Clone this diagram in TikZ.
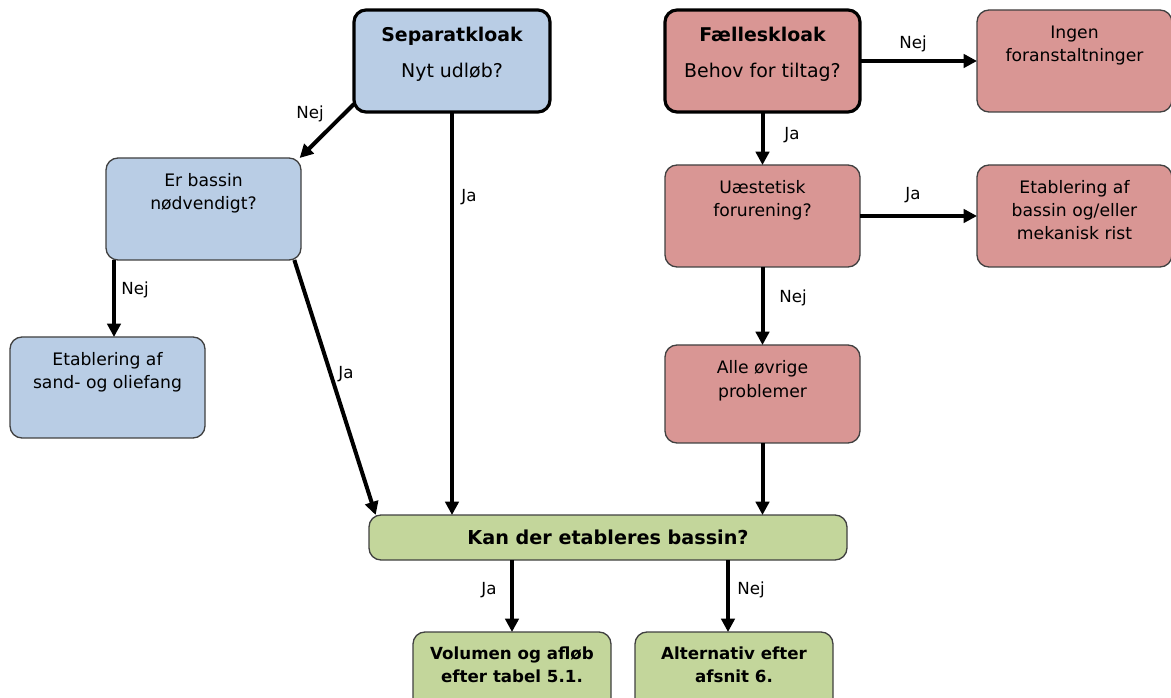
\documentclass[tikz,border=0pt]{standalone}
\usepackage{fontspec}
\setmainfont{DejaVu Sans}
\usetikzlibrary{arrows.meta}
\definecolor{bl}{HTML}{B9CDE5}
\definecolor{rs}{HTML}{D99694}
\definecolor{gr}{HTML}{C3D69B}
\definecolor{bd}{HTML}{404040}
\newcommand{\tbox}[4]{\parbox[t][#2][t]{#1}{\centering\rule{0pt}{#3}#4}}
\tikzset{
  box/.style={draw=bd, line width=1pt, rounded corners=9pt, inner sep=0pt, outer sep=0pt, anchor=north west,
    font=\fontsize{12.9}{17.25}\selectfont},
  mainbox/.style={box, draw=black, line width=2.4pt, font=\fontsize{14.2}{27.5}\selectfont},
  arr/.style={line width=3pt, -{Triangle[length=10pt,width=10pt]}},
  lab/.style={font=\fontsize{12.5}{14}\selectfont, inner sep=0pt}
}
\begin{document}
\begin{tikzpicture}[x=0.75pt,y=-0.75pt]
\clip (0,0) rectangle (1171,698);
% boxes
\node[mainbox, fill=bl] (sep) at (354,10) {\tbox{147pt}{76.5pt}{23.5pt}{{\bfseries Separatkloak}\\Nyt udløb?}};
\node[mainbox, fill=rs] (fael) at (665,10) {\tbox{146.25pt}{76.5pt}{23.5pt}{{\bfseries Fælleskloak}\\Behov for tiltag?}};
\node[box, fill=rs] (ingen) at (977,10) {\tbox{146.25pt}{76.5pt}{21.75pt}{Ingen\\foranstaltninger}};
\node[box, fill=bl] (er) at (106,158) {\tbox{146.25pt}{76.5pt}{21.75pt}{Er bassin\\nødvendigt?}};
\node[box, fill=bl] (sand) at (10,337) {\tbox{146.25pt}{75.75pt}{21.75pt}{Etablering af\\sand- og oliefang}};
\node[box, fill=rs] (uae) at (665,165) {\tbox{146.25pt}{76.5pt}{21.75pt}{Uæstetisk\\forurening?}};
\node[box, fill=rs] (etab) at (977,165) {\tbox{146.25pt}{76.5pt}{21.75pt}{Etablering af\\bassin og/eller\\mekanisk rist}};
\node[box, fill=rs] (alle) at (665,345) {\tbox{146.25pt}{73.5pt}{21.75pt}{Alle øvrige\\problemer}};
\node[box, fill=gr, font=\fontsize{14.4}{17}\bfseries] (kan) at (369,515) {\parbox[c][33.75pt][c]{358.5pt}{\centering Kan der etableres bassin?}};
\node[box, fill=gr, font=\fontsize{12.5}{17.25}\bfseries] (vol) at (413,632) {\tbox{148.5pt}{60pt}{20.5pt}{Volumen og afløb\\efter tabel 5.1.}};
\node[box, fill=gr, font=\fontsize{12.5}{17.25}\bfseries] (alt) at (635,632) {\tbox{148.5pt}{60pt}{20.5pt}{Alternativ efter\\afsnit 6.}};
% connectors
\draw[arr] ([yshift=6pt]sep.south west) -- ([xshift=-1pt]er.north east);
\draw[arr] (sep.south) -- (sep.south |- kan.north);
\draw[arr] ([xshift=6pt]er.south west) -- ([xshift=6pt]er.south west |- sand.north);
\draw[arr] ([xshift=-5pt]er.south east) -- ([xshift=5pt]kan.north west);
\draw[arr] (alle.south) -- (alle.south |- kan.north);
\draw[arr] (fael.east) -- (fael.east -| ingen.west);
\draw[arr] (fael.south) -- (uae.north);
\draw[arr] (uae.east) -- (uae.east -| etab.west);
\draw[arr] (uae.south) -- (alle.north);
\draw[arr] (vol.north |- kan.south) -- (vol.north);
\draw[arr] ([xshift=-4.5pt]alt.north |- kan.south) -- ([xshift=-4.5pt]alt.north);
% labels
\node[lab] (l1) at (310,114) {Nej};
\node[lab] (l2) at (469,197) {Ja};
\node[lab] (l3) at (135,290) {Nej};
\node[lab] (l4) at (346,374) {Ja};
\node[lab] (l5) at (913,44) {Nej};
\node[lab] (l6) at (792,135) {Ja};
\node[lab] (l7) at (913,195) {Ja};
\node[lab] (l8) at (793,298) {Nej};
\node[lab] (l9) at (489,590) {Ja};
\node[lab] (l10) at (751,590) {Nej};
\end{tikzpicture}
\end{document}
